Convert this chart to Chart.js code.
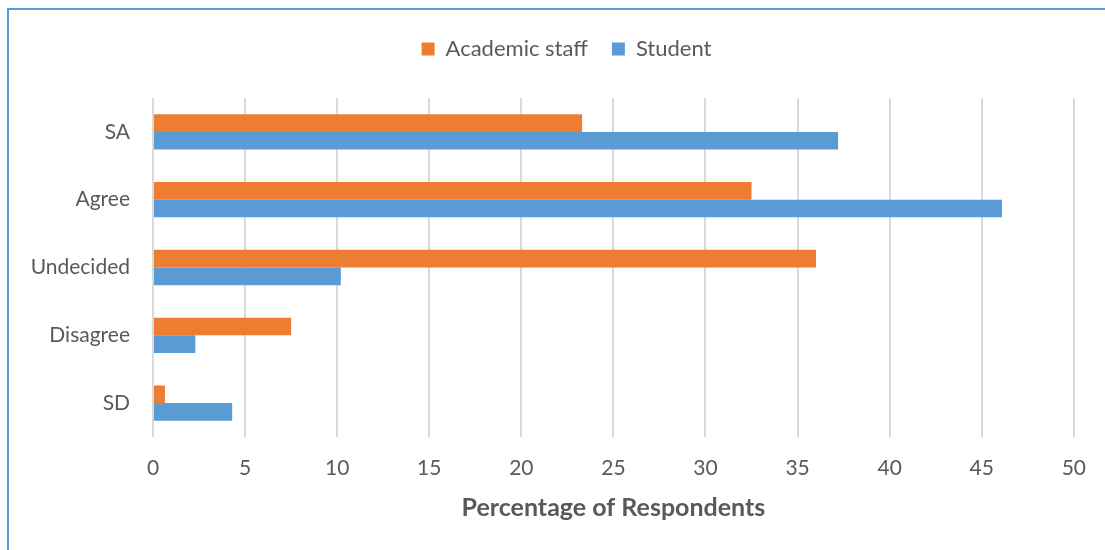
<!DOCTYPE html>
<html>
<head>
<meta charset="utf-8">
<script src="https://cdn.jsdelivr.net/npm/chart.js@4"></script>
<style>
  html, body { margin: 0; padding: 0; background: #fff; }
  #wrap { position: relative; width: 1105px; height: 550px; }
  #frame { position: absolute; left: 7px; top: 8px; right: 0; bottom: 0;
           border-left: 2px solid #5b9bd5; border-top: 2px solid #5b9bd5; }
  #chart { position: absolute; left: 0; top: 0; }
</style>
</head>
<body>
<div id="wrap">
  <div id="frame"></div>
  <canvas id="chart" width="1105" height="550"></canvas>
</div>
<script>
// Survey responses, percent of each group
const categories = ['SA', 'Agree', 'Undecided', 'Disagree', 'SD'];
const staffValues = [23.3, 32.5, 36.0, 7.5, 0.65];
const studentValues = [37.2, 46.1, 10.2, 2.3, 4.3];
const xTicks = [0, 5, 10, 15, 20, 25, 30, 35, 40, 45, 50];

const textColor = '#595959';
const fontFamily = 'Lato, "Open Sans", sans-serif';

// stretch the legend box so the plot starts lower down,
// and nudge it right so it sits over the plot area
const legendPlacement = {
  id: 'legendPlacement',
  beforeInit(chart){
    const fit = chart.legend.fit;
    chart.legend.fit = function(){
      fit.bind(chart.legend)();
      this.height = 84;
    };
  },
  afterLayout(chart){
    chart.legend.left += 29;
    chart.legend.right += 29;
  }
};

const ctx = document.getElementById('chart').getContext('2d');
new Chart(ctx, {
  type: 'bar',
  data: {
    labels: categories,
    datasets: [
      { label: 'Academic staff', data: staffValues, backgroundColor: '#ed7d31', barPercentage: 1, categoryPercentage: 0.52 },
      { label: 'Student', data: studentValues, backgroundColor: '#5b9bd5', barPercentage: 1, categoryPercentage: 0.52 }
    ]
  },
  options: {
    indexAxis: 'y',
    responsive: false,
    animation: false,
    layout: { padding: { top: 14, right: 30, left: 0, bottom: 0 } },
    plugins: {
      legend: {
        position: 'top',
        labels: {
          color: textColor,
          font: { family: fontFamily, size: 22 },
          boxWidth: 13,
          boxHeight: 13,
          padding: 24
        }
      },
      tooltip: { enabled: false }
    },
    scales: {
      x: {
        min: 0,
        max: 50,
        afterBuildTicks(scale){ scale.ticks = xTicks.map(v => ({ value: v })); },
        afterFit(scale){ scale.height = 113; },
        grid: { color: '#d9d9d9', lineWidth: 2, drawTicks: false },
        border: { display: false },
        ticks: { color: textColor, font: { family: fontFamily, size: 21 }, padding: 19 },
        title: {
          display: true,
          text: 'Percentage of Respondents',
          color: textColor,
          font: { family: fontFamily, size: 25, weight: 'bold' },
          padding: { top: 4, bottom: 27 }
        }
      },
      y: {
        afterFit(scale){ scale.width = 153; },
        grid: { display: false, drawTicks: false },
        border: { display: false },
        ticks: { color: textColor, font: { family: fontFamily, size: 21 }, padding: 23 }
      }
    }
  },
  plugins: [legendPlacement]
});
</script>
</body>
</html>
